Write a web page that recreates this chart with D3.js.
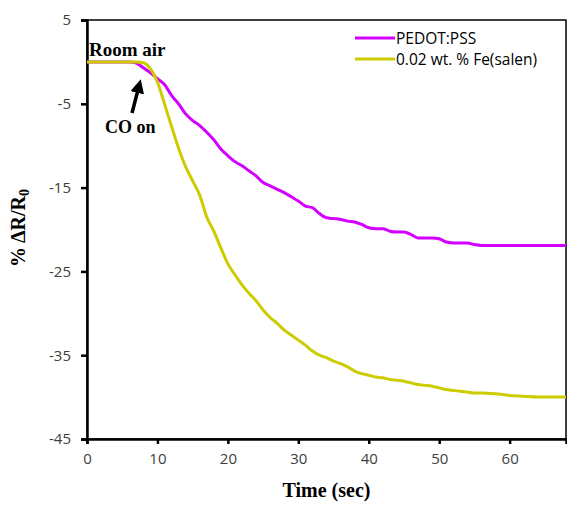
<!DOCTYPE html>
<html><head><meta charset="utf-8">
<script src="https://cdn.jsdelivr.net/npm/d3@7"></script>
<style>body{margin:0;background:#fff}svg{display:block}</style>
</head><body>
<svg id="chart" width="567" height="505"></svg>
<script>
const timeSec = [0,5,6,7,8,9,10,11,12,13,14,15,16,17,18,19,20,21,22,23,24,25,26,27,28,29,30,31,32,33,34,35,36,37,38,39,40,41,42,43,44,45,46,47,48,49,50,51,52,53,54,55,56,58,60,62,64,66,68];
const pedotPss = [0,0,0,-0.15,-0.7,-1.3,-2.0,-2.7,-4.0,-5.0,-6.2,-7.0,-7.6,-8.4,-9.3,-10.4,-11.2,-11.9,-12.4,-13.0,-13.6,-14.4,-14.8,-15.2,-15.6,-16.1,-16.6,-17.2,-17.4,-18.1,-18.6,-18.7,-18.8,-19.0,-19.1,-19.4,-19.8,-19.9,-19.9,-20.2,-20.3,-20.3,-20.6,-21.0,-21.0,-21.0,-21.1,-21.5,-21.6,-21.6,-21.6,-21.8,-21.9,-21.9,-21.9,-21.9,-21.9,-21.9,-21.9];
const feSalen = [0,0,0,0,-0.1,-0.8,-2.4,-5.0,-7.7,-10.3,-12.5,-14.2,-15.9,-18.5,-20.2,-22.2,-24.1,-25.4,-26.6,-27.6,-28.5,-29.6,-30.5,-31.2,-32.0,-32.6,-33.2,-33.8,-34.5,-35.0,-35.3,-35.7,-36.0,-36.4,-36.9,-37.2,-37.4,-37.6,-37.7,-37.9,-38.0,-38.1,-38.3,-38.5,-38.6,-38.7,-38.9,-39.1,-39.2,-39.3,-39.4,-39.5,-39.5,-39.6,-39.8,-39.9,-40.0,-40.0,-40.0];
const seriesNames = ["PEDOT:PSS","0.02 wt. % Fe(salen)"];
const seriesColors = ["#D400FF","#CCCC00"];
const xTicks = [0,10,20,30,40,50,60];
const yTicks = [5,-5,-15,-25,-35,-45];

const svg = d3.select("#chart");
const L = 87, R = 566, T = 20, B = 439;
const x = d3.scaleLinear().domain([0,68]).range([L,R]);
const y = d3.scaleLinear().domain([-45,5]).range([B,T]);

svg.append("rect").attr("x",L).attr("y",T).attr("width",R-L).attr("height",B-T)
  .attr("fill","none").attr("stroke","#000").attr("stroke-width",1.5);

const tickFont = "'Open Sans', 'Liberation Sans', sans-serif";
const gx = svg.append("g").attr("transform",`translate(0,${B})`)
  .call(d3.axisBottom(x).tickValues(xTicks).tickSize(5).tickPadding(9).tickFormat(d=>String(d)));
const gy = svg.append("g").attr("transform",`translate(${L},0)`)
  .call(d3.axisLeft(y).tickValues(yTicks).tickSize(6).tickPadding(10).tickFormat(d=>String(d)));
[gx,gy].forEach(g=>{
  g.select(".domain").attr("stroke","#000").attr("stroke-width",2.5);
  g.selectAll(".tick line").attr("stroke","#000").attr("stroke-width",2.5);
  g.selectAll(".tick text").attr("fill","#404040").style("font-family",tickFont).style("font-size","15px");
});

const data = timeSec.map((t,i)=>({t, a:pedotPss[i], b:feSalen[i]}));
const lineA = d3.line().x(d=>x(d.t)).y(d=>y(d.a)).curve(d3.curveMonotoneX);
const lineB = d3.line().x(d=>x(d.t)).y(d=>y(d.b)).curve(d3.curveMonotoneX);
svg.append("path").datum(data).attr("d",lineA).attr("fill","none").attr("stroke",seriesColors[0]).attr("stroke-width",3);
svg.append("path").datum(data).attr("d",lineB).attr("fill","none").attr("stroke",seriesColors[1]).attr("stroke-width",3);

const leg = svg.append("g");
seriesNames.forEach((n,i)=>{
  const yy = 38 + i*21;
  leg.append("line").attr("x1",355).attr("x2",395).attr("y1",yy).attr("y2",yy)
    .attr("stroke",seriesColors[i]).attr("stroke-width",3);
  leg.append("text").attr("x",396).attr("y",yy+5.5).text(n)
    .style("font-family",tickFont).style("font-size","15.5px").attr("fill","#000");
});

const serif = "'Liberation Serif','DejaVu Serif',serif";
svg.append("text").attr("x",89).attr("y",56).text("Room air")
  .style("font-family",serif).style("font-weight","bold").style("font-size","19px");
svg.append("text").attr("x",105).attr("y",133).text("CO on")
  .style("font-family",serif).style("font-weight","bold").style("font-size","18px");
svg.append("defs").append("marker").attr("id","ah").attr("viewBox","0 0 10 10")
  .attr("refX",5).attr("refY",5).attr("markerWidth",4).attr("markerHeight",4).attr("orient","auto")
  .append("path").attr("d","M0,0 L10,5 L0,10 z").attr("fill","#000");
svg.append("line").attr("x1",132).attr("y1",113).attr("x2",139).attr("y2",86)
  .attr("stroke","#000").attr("stroke-width",3.5).attr("marker-end","url(#ah)");

svg.append("text").attr("x",(L+R)/2).attr("y",497).attr("text-anchor","middle").text("Time (sec)")
  .style("font-family",serif).style("font-weight","bold").style("font-size","20px");
const yl = svg.append("text").attr("transform","translate(25,228) rotate(-90)").attr("text-anchor","middle")
  .style("font-family",serif).style("font-weight","bold").style("font-size","20px");
yl.append("tspan").text("% ΔR/R");
yl.append("tspan").attr("dy",4).style("font-size","14px").text("0");
</script>
</body></html>
